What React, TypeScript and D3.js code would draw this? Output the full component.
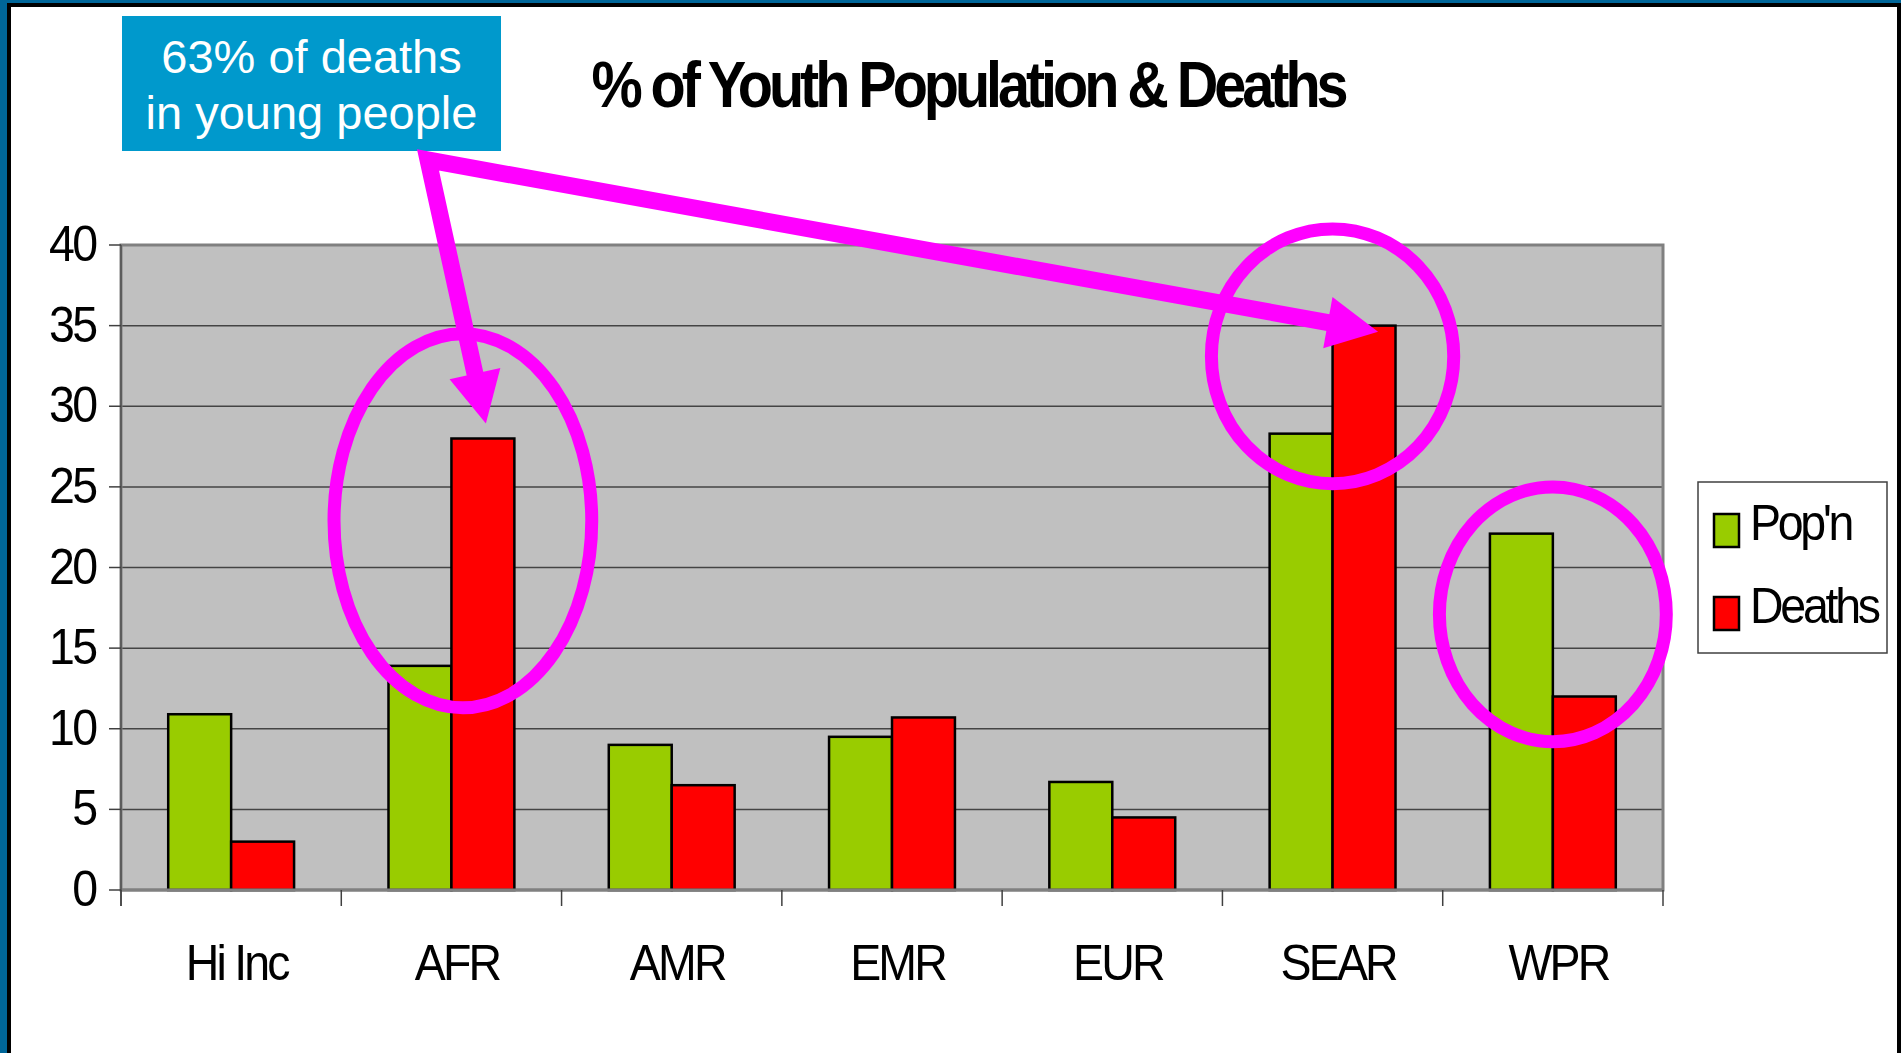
import React from "react";
import * as d3 from "d3";

const categories = ["Hi Inc", "AFR", "AMR", "EMR", "EUR", "SEAR", "WPR"];
const popValues = [10.9, 13.9, 9.0, 9.5, 6.7, 28.3, 22.1];
const deathValues = [3.0, 28.0, 6.5, 10.7, 4.5, 35.0, 12.0];
const seriesNames = ["Pop'n", "Deaths"];
const seriesColors = ["#99CC00", "#FF0000"];
const yTicks = [0, 5, 10, 15, 20, 25, 30, 35, 40];
const titleText = "% of Youth Population & Deaths";
const calloutLines = ["63% of deaths", "in young people"];

// annotation ellipses: category, value of centre, x offset (band fraction), rx (band fraction), ry (value units)
const ellipseNotes = [
  { cat: "AFR", cy: 22.9, dx: 0.052, rx: 0.585, ry: 11.6 },
  { cat: "SEAR", cy: 33.1, dx: 0.0, rx: 0.55, ry: 7.9 },
  { cat: "WPR", cy: 17.1, dx: 0.0, rx: 0.515, ry: 7.9 },
];

const W = 1901;
const H = 1053;
const FONT = "'Liberation Sans', Arial, Helvetica, sans-serif";

const plot = { left: 121, right: 1663, top: 245, bottom: 890 };

function SText(props: {
  x: number;
  y: number;
  sx?: number;
  ls?: number;
  anchor?: string;
  size: number;
  weight?: string | number;
  fill?: string;
  children: React.ReactNode;
}) {
  const { x, y, sx = 1, ls = 0, anchor = "start", size, weight = "normal", fill = "#000" } = props;
  // compensate trailing letter-spacing for centred / end-anchored text
  const shift = anchor === "middle" ? -ls / 2 : anchor === "end" ? -ls : 0;
  return (
    <text
      transform={`translate(${x - shift * sx},${y}) scale(${sx},1)`}
      textAnchor={anchor as any}
      fontSize={size}
      fontWeight={weight as any}
      fontFamily={FONT}
      letterSpacing={ls}
      fill={fill}
    >
      {props.children}
    </text>
  );
}

export default function App() {
  const x0 = d3
    .scaleBand<string>()
    .domain(categories)
    .range([plot.left, plot.right])
    .paddingInner(0)
    .paddingOuter(0);
  const band = x0.bandwidth();
  const x1 = d3
    .scaleBand<string>()
    .domain(seriesNames)
    .range([0, band])
    .paddingInner(0)
    .paddingOuter(0.75);
  const bw = x1.bandwidth();
  const y = d3.scaleLinear().domain([0, 40]).range([plot.bottom, plot.top]);
  const seriesValues = [popValues, deathValues];

  // callout box
  const box = { x: 122, y: 16, w: 379, h: 135 };

  // arrows
  const V: [number, number] = [box.x + 306, box.y + box.h + 9];
  const tip1: [number, number] = [
    (x0("AFR") as number) + (x1("Deaths") as number) + bw / 2 + 3,
    y(deathValues[1]) - 15,
  ];
  const tip2: [number, number] = [
    (x0("SEAR") as number) + (x1("Deaths") as number) + bw / 2 + 14,
    y(deathValues[5]) + 6,
  ];
  const headLen = 51;
  const headHalf = 26;
  function head(t: [number, number]) {
    const dx = t[0] - V[0];
    const dy = t[1] - V[1];
    const L = Math.hypot(dx, dy);
    const ux = dx / L;
    const uy = dy / L;
    const bx = t[0] - ux * headLen;
    const by = t[1] - uy * headLen;
    const px = -uy;
    const py = ux;
    const tri = `M${t[0]},${t[1]} L${bx + px * headHalf},${by + py * headHalf} L${bx - px * headHalf},${
      by - py * headHalf
    } Z`;
    const shaftEnd: [number, number] = [t[0] - ux * (headLen - 6), t[1] - uy * (headLen - 6)];
    return { tri, shaftEnd };
  }
  const h1 = head(tip1);
  const h2 = head(tip2);
  const magenta = "#FF00FF";

  return (
    <svg
      width={W}
      height={H}
      style={{ position: "absolute", left: 0, top: 0, display: "block" }}
    >
      {/* frame */}
      <rect x={0} y={0} width={W} height={H} fill="#006699" />
      <rect x={7} y={3} width={W - 7} height={H + 10} fill="#000" />
      <rect x={11} y={7} width={1886} height={H + 10} fill="#fff" />

      {/* plot area */}
      <rect
        x={plot.left}
        y={plot.top}
        width={plot.right - plot.left}
        height={plot.bottom - plot.top}
        fill="#C0C0C0"
      />
      {yTicks
        .filter((t) => t > 0 && t < 40)
        .map((t) => (
          <line
            key={"g" + t}
            x1={plot.left}
            x2={plot.right}
            y1={y(t)}
            y2={y(t)}
            stroke="#444"
            strokeWidth={1.5}
          />
        ))}
      <rect
        x={plot.left}
        y={plot.top}
        width={plot.right - plot.left}
        height={plot.bottom - plot.top}
        fill="none"
        stroke="#808080"
        strokeWidth={3}
      />

      {/* bars */}
      {categories.map((c, i) => (
        <g key={c} transform={`translate(${x0(c)},0)`}>
          {seriesNames.map((s, j) => (
            <rect
              key={s}
              x={x1(s) as number}
              y={y(seriesValues[j][i])}
              width={bw}
              height={plot.bottom - y(seriesValues[j][i])}
              fill={seriesColors[j]}
              stroke="#000"
              strokeWidth={2.5}
            />
          ))}
        </g>
      ))}

      {/* axes */}
      <line x1={plot.left} x2={plot.right} y1={plot.bottom} y2={plot.bottom} stroke="#808080" strokeWidth={3} />
      <line x1={plot.left} x2={plot.left} y1={plot.top} y2={plot.bottom + 16} stroke="#505050" strokeWidth={1.5} />
      {yTicks.map((t) => (
        <g key={"yt" + t}>
          <line x1={plot.left - 12} x2={plot.left} y1={y(t)} y2={y(t)} stroke="#404040" strokeWidth={1.5} />
          <SText x={98} y={y(t) + 16} sx={0.93} ls={-3} anchor="end" size={50}>
            {String(t)}
          </SText>
        </g>
      ))}
      {[...categories.map((c) => x0(c) as number), plot.right].map((xx, k) => (
        <line key={"xt" + k} x1={xx} x2={xx} y1={plot.bottom} y2={plot.bottom + 16} stroke="#404040" strokeWidth={1.5} />
      ))}
      {categories.map((c) => (
        <SText key={"xl" + c} x={(x0(c) as number) + band / 2 + 7} y={980} sx={0.93} ls={-3} anchor="middle" size={50}>
          {c}
        </SText>
      ))}

      {/* title */}
      <SText x={970} y={107} sx={0.9} ls={-4.5} anchor="middle" size={64} weight="bold">
        {titleText}
      </SText>

      {/* legend */}
      <rect x={1698} y={482} width={189} height={171} fill="#fff" stroke="#404040" strokeWidth={1.5} />
      {seriesNames.map((s, j) => (
        <g key={"lg" + s}>
          <rect
            x={1714}
            y={514 + j * 83}
            width={25}
            height={33}
            fill={seriesColors[j]}
            stroke="#000"
            strokeWidth={2.5}
          />
          <SText x={1750} y={540 + j * 83} sx={0.93} ls={-3.5} size={50}>
            {s}
          </SText>
        </g>
      ))}

      {/* ellipses */}
      {ellipseNotes.map((e) => {
        const cx = (x0(e.cat) as number) + band / 2 + e.dx * band;
        const cy = y(e.cy);
        return (
          <ellipse
            key={"el" + e.cat}
            cx={cx}
            cy={cy}
            rx={e.rx * band}
            ry={y(0) - y(e.ry)}
            fill="none"
            stroke={magenta}
            strokeWidth={13}
          />
        );
      })}

      {/* callout */}
      <rect x={box.x} y={box.y} width={box.w} height={box.h} fill="#0099CC" />
      {calloutLines.map((l, i) => (
        <SText key={"cl" + i} x={box.x + box.w / 2} y={73 + i * 56} anchor="middle" size={47} fill="#fff">
          {l}
        </SText>
      ))}

      {/* arrows */}
      <path
        d={`M${h1.shaftEnd[0]},${h1.shaftEnd[1]} L${V[0]},${V[1]} L${h2.shaftEnd[0]},${h2.shaftEnd[1]}`}
        fill="none"
        stroke={magenta}
        strokeWidth={17}
        strokeLinejoin="miter"
      />
      <path d={h1.tri} fill={magenta} />
      <path d={h2.tri} fill={magenta} />
    </svg>
  );
}
